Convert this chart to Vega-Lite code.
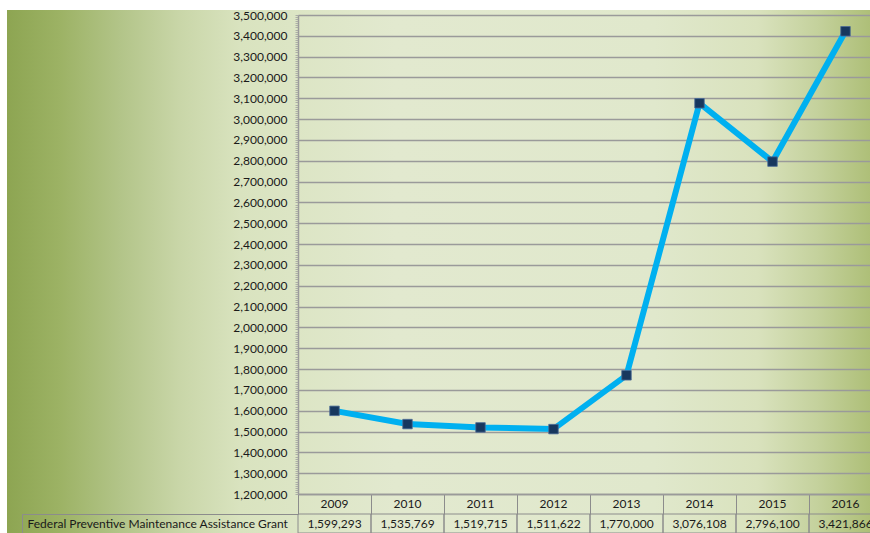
{
  "$schema": "https://vega.github.io/schema/vega-lite/v6.json",
  "width": 863,
  "height": 523,
  "autosize": "none",
  "padding": {"left": 7, "top": 10, "right": 0, "bottom": 0},
  "background": "white",
  "config": {
    "view": {
      "stroke": null,
      "fill": {
        "gradient": "linear", "x1": 0, "y1": 0, "x2": 1, "y2": 0,
        "stops": [
          {"offset": 0, "color": "#8da552"},
          {"offset": 0.06, "color": "#9cb264"},
          {"offset": 0.13, "color": "#b2c488"},
          {"offset": 0.2, "color": "#c9d6a8"},
          {"offset": 0.27, "color": "#d9e3bf"},
          {"offset": 0.45, "color": "#e2e9cf"},
          {"offset": 0.75, "color": "#e0e8cc"},
          {"offset": 0.87, "color": "#d9e2bd"},
          {"offset": 0.94, "color": "#c4d19c"},
          {"offset": 1, "color": "#aebf78"}
        ]
      }
    },
    "axis": {"labelFont": "Lato", "labelFontSize": 12, "labelColor": "#1a1a1a", "titleFont": "Lato"}
  },
  "data": {
    "values": [
      {"year": "2009", "value": 1599293, "row": "Federal Preventive Maintenance Assistance Grant"},
      {"year": "2010", "value": 1535769, "row": "Federal Preventive Maintenance Assistance Grant"},
      {"year": "2011", "value": 1519715, "row": "Federal Preventive Maintenance Assistance Grant"},
      {"year": "2012", "value": 1511622, "row": "Federal Preventive Maintenance Assistance Grant"},
      {"year": "2013", "value": 1770000, "row": "Federal Preventive Maintenance Assistance Grant"},
      {"year": "2014", "value": 3076108, "row": "Federal Preventive Maintenance Assistance Grant"},
      {"year": "2015", "value": 2796100, "row": "Federal Preventive Maintenance Assistance Grant"},
      {"year": "2016", "value": 3421866, "row": "Federal Preventive Maintenance Assistance Grant"}
    ]
  },
  "encoding": {
    "x": {
      "field": "year", "type": "ordinal",
      "scale": {"type": "band", "range": [291, 875], "paddingInner": 0, "paddingOuter": 0},
      "axis": {
        "title": null, "orient": "bottom", "offset": -39, "labelAngle": 0,
        "bandPosition": 0, "tickSize": 20, "labelPadding": -16,
        "tickColor": "#8c8c8c", "domainColor": "#8c8c8c", "tickWidth": 1, "domainWidth": 1.5
      }
    }
  },
  "layer": [
    {
      "layer": [
        {
          "mark": {"type": "line", "color": "#00b0f0", "strokeWidth": 6},
          "encoding": {
            "y": {
              "field": "value", "type": "quantitative",
              "scale": {"domain": [1200000, 3500000], "range": [484, 5], "nice": false, "zero": false},
              "axis": {
                "title": null, "orient": "left", "offset": -291, "values": [1200000,1300000,1400000,1500000,1600000,1700000,1800000,1900000,2000000,2100000,2200000,2300000,2400000,2500000,2600000,2700000,2800000,2900000,3000000,3100000,3200000,3300000,3400000,3500000],
                "format": ",d", "grid": false, "tickSize": -584, "labelPadding": 595,
                "tickColor": "#9a9a9a", "tickWidth": 1.6, "domainColor": "#9a9a9a", "domainWidth": 1.5
              }
            }
          }
        },
        {
          "mark": {"type": "point", "shape": "square", "filled": true, "size": 90, "color": "#17375e", "opacity": 1, "stroke": "#4a6a95", "strokeWidth": 0.8},
          "encoding": {
            "y": {
              "field": "value", "type": "quantitative",
              "axis": {
                "title": null, "orient": "left", "offset": -291, "tickCount": 230, "labels": false, "domain": false, "grid": false,
                "tickSize": 3, "tickColor": "#a0a0a0", "tickWidth": 0.8
              }
            }
          }
        }
      ],
      "resolve": {"axis": {"y": "independent"}}
    },
    {
      "encoding": {
        "y": {
          "field": "row", "type": "nominal",
          "scale": {"type": "band", "range": [504, 523], "paddingInner": 0, "paddingOuter": 0},
          "axis": {
            "title": null, "orient": "left", "offset": -15, "bandPosition": 0,
            "tickSize": -276, "labelPadding": 271, "labelAlign": "left", "labelBaseline": "middle", "labelLimit": 0,
            "tickColor": "#8c8c8c", "domainColor": "#8c8c8c", "tickWidth": 1, "domainWidth": 1
          }
        }
      },
      "layer": [
        {"mark": {"type": "rect", "fill": null, "stroke": "#8c8c8c", "strokeWidth": 1}},
        {"mark": {"type": "text", "font": "Lato", "fontSize": 12, "color": "#1a1a1a", "baseline": "middle"}, "encoding": {"text": {"field": "value", "type": "quantitative", "format": ",d"}}}
      ]
    }
  ],
  "resolve": {"scale": {"y": "independent"}, "axis": {"y": "independent"}}
}
